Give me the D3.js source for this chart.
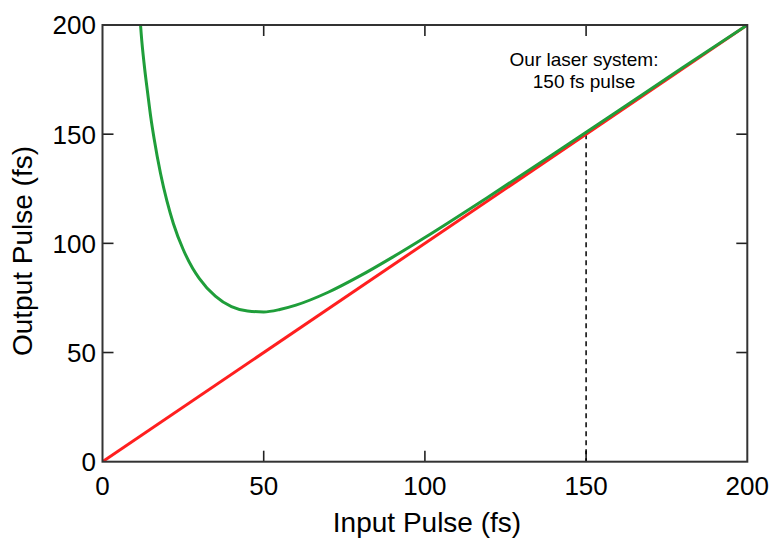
<!DOCTYPE html>
<html>
<head>
<meta charset="utf-8">
<script src="https://cdn.jsdelivr.net/npm/d3@7"></script>
<style>
  body { margin: 0; background: #fff; }
  text { font-family: "Liberation Sans", Arial, sans-serif; fill: #000; }
</style>
</head>
<body>
<svg id="chart" width="775" height="546"></svg>
<script>
// Values.
const inputPulse = [11.8, 12, 13, 14, 15, 16, 18, 20, 22, 25, 28, 30, 35, 40, 45, 50, 55, 60, 70, 80, 90, 100, 120, 140, 160, 180, 200];
const outputPulse = [200, 196, 181, 169, 157.5, 148, 132, 119.3, 109, 97.3, 88.5, 84, 75.8, 71, 69, 68.6, 69.7, 71.7, 77.6, 85.2, 93.7, 102.7, 121.6, 141, 160.7, 180.5, 200];
const refInput = [0, 200];
const refOutput = [0, 200];
const tickValues = [0, 50, 100, 150, 200];
const markerPulse = 150;
const noteLines = ["Our laser system:", "150 fs pulse"];

let svg = d3.select("#chart");

let graphAttr = { left: 102.5, right: 747.3, top: 25, bottom: 461.7 };

let xScale = d3.scaleLinear().domain([0, 200]).range([graphAttr.left, graphAttr.right]);
let yScale = d3.scaleLinear().domain([0, 200]).range([graphAttr.bottom, graphAttr.top]);

svg.append("clipPath").attr("id", "plotClip")
    .append("rect")
    .attr("x", graphAttr.left).attr("y", graphAttr.top)
    .attr("width", graphAttr.right - graphAttr.left)
    .attr("height", graphAttr.bottom - graphAttr.top);

// Inner ticks on all four sides
let innerTicks = tickValues.filter(d => d > 0 && d < 200);
let tickLen = 11;
let tickStyle = sel => sel.attr("stroke", "#222").attr("stroke-width", 1.6);
innerTicks.forEach(t => {
    svg.append("line").attr("x1", xScale(t)).attr("x2", xScale(t))
        .attr("y1", graphAttr.bottom).attr("y2", graphAttr.bottom - tickLen).call(tickStyle);
    svg.append("line").attr("x1", xScale(t)).attr("x2", xScale(t))
        .attr("y1", graphAttr.top).attr("y2", graphAttr.top + tickLen).call(tickStyle);
    svg.append("line").attr("y1", yScale(t)).attr("y2", yScale(t))
        .attr("x1", graphAttr.left).attr("x2", graphAttr.left + tickLen).call(tickStyle);
    svg.append("line").attr("y1", yScale(t)).attr("y2", yScale(t))
        .attr("x1", graphAttr.right).attr("x2", graphAttr.right - tickLen).call(tickStyle);
});

// Dashed marker at 150 fs
svg.append("line")
    .attr("x1", xScale(markerPulse)).attr("x2", xScale(markerPulse))
    .attr("y1", yScale(markerPulse)).attr("y2", graphAttr.bottom)
    .attr("stroke", "#000").attr("stroke-width", 1.5)
    .attr("stroke-dasharray", "5,4");

let line = d3.line()
    .x(d => xScale(d[0]))
    .y(d => yScale(d[1]))
    .curve(d3.curveMonotoneX);

// Red: output = input
svg.append("path")
    .datum(refInput.map((d, i) => [d, refOutput[i]]))
    .attr("d", line)
    .attr("fill", "none")
    .attr("stroke", "#ff1f1f")
    .attr("stroke-width", 3)
    .attr("clip-path", "url(#plotClip)");

// Green: output after dispersion
svg.append("path")
    .datum(inputPulse.map((d, i) => [d, outputPulse[i]]))
    .attr("d", line)
    .attr("fill", "none")
    .attr("stroke", "#1f9e3a")
    .attr("stroke-width", 3)
    .attr("clip-path", "url(#plotClip)");

// Frame
svg.append("rect")
    .attr("x", graphAttr.left).attr("y", graphAttr.top)
    .attr("width", graphAttr.right - graphAttr.left)
    .attr("height", graphAttr.bottom - graphAttr.top)
    .attr("fill", "none").attr("stroke", "#333").attr("stroke-width", 2);

// Tick labels
tickValues.forEach(t => {
    svg.append("text").text(t)
        .attr("x", xScale(t)).attr("y", 495)
        .attr("text-anchor", "middle")
        .style("font-size", "26px");
    svg.append("text").text(t)
        .attr("x", 96).attr("y", yScale(t))
        .attr("dy", "0.36em")
        .attr("text-anchor", "end")
        .style("font-size", "26px");
});

// Axis titles
svg.append("text").text("Input Pulse (fs)")
    .attr("x", 427).attr("y", 532)
    .attr("text-anchor", "middle")
    .style("font-size", "28px");

svg.append("text").text("Output Pulse (fs)")
    .attr("transform", "translate(32, 251) rotate(-90)")
    .attr("text-anchor", "middle")
    .style("font-size", "28px");

// Annotation
noteLines.forEach((s, i) => {
    svg.append("text").text(s)
        .attr("x", 584).attr("y", 66 + i * 22)
        .attr("text-anchor", "middle")
        .style("font-size", "19px");
});
</script>
</body>
</html>
